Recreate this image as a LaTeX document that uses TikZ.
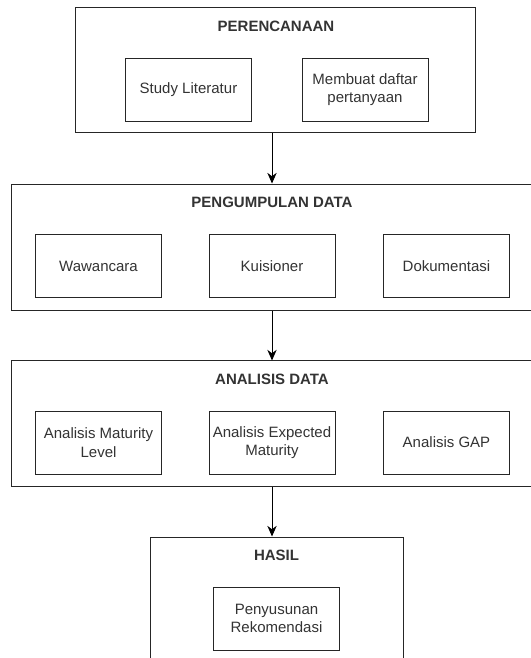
\documentclass[tikz,border=0pt]{standalone}
\usepackage{fontspec}
\setmainfont{Liberation Sans}
\usetikzlibrary{arrows.meta}

\begin{document}
\begin{tikzpicture}[x=0.75pt,y=-0.75pt,line width=0.75pt,>={Stealth[length=8pt,width=7pt]},
  font=\fontsize{11.25}{14}\selectfont,text=black!80,
  phase/.style 2 args={draw=black!85,minimum width=#1,minimum height=#2,inner sep=0pt},
  task/.style={draw=black!85,minimum width=94.5pt,minimum height=47.25pt,align=center,inner sep=1pt},
  title/.style={font=\fontsize{11.25}{14}\selectfont\bfseries}]
\useasboundingbox (0,0) rectangle (531,658);
\clip (0,0) rectangle (531,658);
% ================= PERENCANAAN =================
\node[phase={300pt}{94.1pt}] (perencanaan) at (275,70.2) {};
\node[title] (tPerencanaan) at (276,26) {PERENCANAAN};
\node[task] (studi) at (188.5,89.5) {Study Literatur};
\node[task] (daftar) at (365,89.5) {Membuat daftar\\pertanyaan};
% ================= PENGUMPULAN DATA =================
\node[phase={391.5pt}{94.5pt}] (pengumpulan) at (272,247) {};
\node[title] (tPengumpulan) at (272,202) {PENGUMPULAN DATA};
\node[task] (wawancara) at (98.5,266) {Wawancara};
\node[task] (kuisioner) at (272,266) {Kuisioner};
\node[task] (dokumentasi) at (446.5,266) {Dokumentasi};
% ================= ANALISIS DATA =================
\node[phase={391.5pt}{93.8pt}] (analisis) at (272,423.5) {};
\node[title] (tAnalisis) at (272,379) {ANALISIS DATA};
\node[task] (maturity) at (98.5,442.5) {Analisis Maturity\\Level};
\node[task] (expected) at (272,442.5) {Analisis Expected\\Maturity};
\node[task] (gap) at (446.5,442.5) {Analisis GAP};
% ================= HASIL =================
\node[phase={189.75pt}{97.5pt}] (hasil) at (276.5,602) {};
\node[title] (tHasil) at (276.5,555) {HASIL};
\node[task] (rekomendasi) at (276.5,618.5) {Penyusunan\\Rekomendasi};
% arrows between phases
\draw[->] (perencanaan.south -| tPengumpulan) -- (pengumpulan.north);
\draw[->] (pengumpulan.south) -- (analisis.north);
\draw[->] (analisis.south) -- (analisis.south |- hasil.north);
\end{tikzpicture}
\end{document}
